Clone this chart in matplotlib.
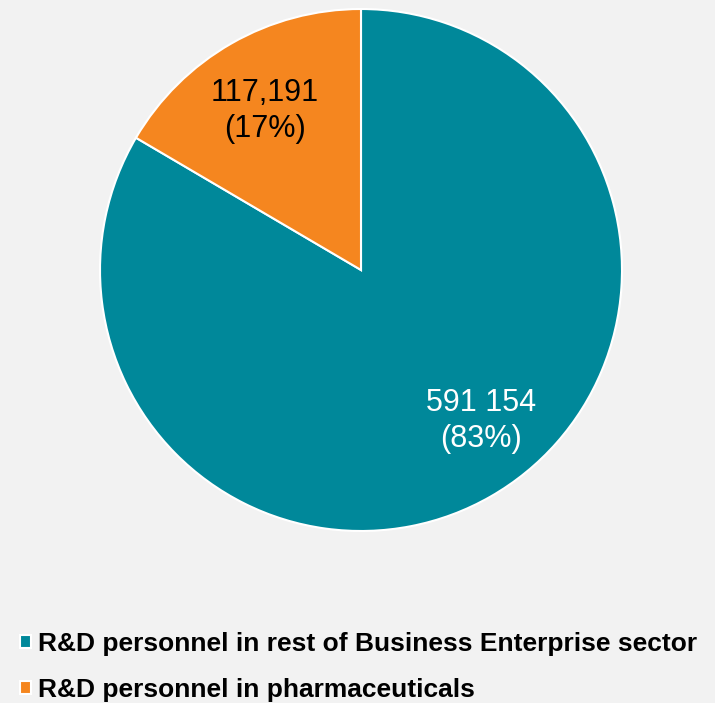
import matplotlib
matplotlib.use("Agg")
import matplotlib.pyplot as plt

categories = [
    "R&D personnel in rest of Business Enterprise sector",
    "R&D personnel in pharmaceuticals",
]
values = [591154, 117191]
value_labels = ["591 154", "117,191"]
colors = ["#00889A", "#F5861F"]
text_colors = ["white", "black"]

plt.rcParams["font.family"] = ["Liberation Sans", "DejaVu Sans"]

W, H = 715, 703
fig = plt.figure(figsize=(W / 100, H / 100), dpi=100, facecolor="#F2F2F2")

cx, cy, r = 361, 270, 261
ax = fig.add_axes([(cx - r) / W, (H - cy - r) / H, 2 * r / W, 2 * r / H])
ax.set_facecolor("#F2F2F2")

total = sum(values)
wedges, _ = ax.pie(
    values,
    colors=colors,
    startangle=90,
    counterclock=False,
    radius=1,
    wedgeprops=dict(edgecolor="white", linewidth=1.5),
)
ax.set_xlim(-1, 1)
ax.set_ylim(-1, 1)
ax.set_aspect("equal")

label_pos = [(0.46, -0.58), (-0.368, 0.61)]
for (x, y), lab, v, tc in zip(label_pos, value_labels, values, text_colors):
    pct = round(100 * v / total)
    ax.text(x, y, f"{lab}\n({pct}%)", ha="center", va="center",
            fontsize=22, color=tc, linespacing=1.27)

fig.legend(
    wedges, categories,
    loc="upper left", bbox_to_anchor=(20 / W, 1 - 632 / H),
    frameon=False, borderpad=0, borderaxespad=0,
    handlelength=0.42, handleheight=0.42, handletextpad=0.27,
    labelspacing=0.83,
    prop=dict(weight="bold", size=19),
)

fig.savefig("out.png", dpi=100, facecolor=fig.get_facecolor())
